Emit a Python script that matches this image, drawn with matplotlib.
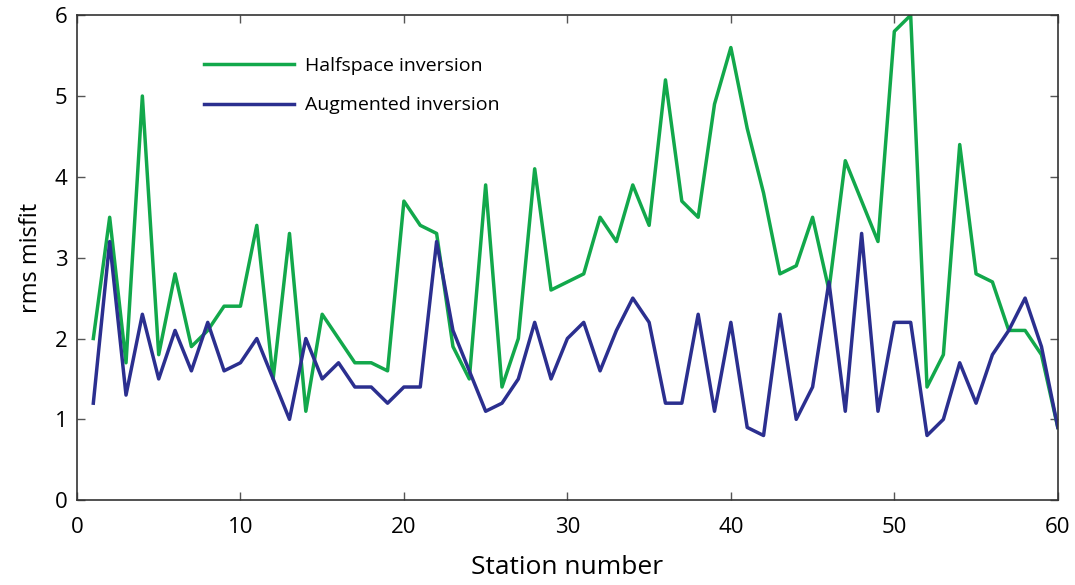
import matplotlib.pyplot as plt

plt.rcParams['font.family'] = ['Open Sans', 'DejaVu Sans']

# rms misfit per station for the two inversion schemes
stations = list(range(1, 61))
halfspace = [2.0, 3.5, 1.7, 5.0, 1.8, 2.8, 1.9, 2.1, 2.4, 2.4,
             3.4, 1.5, 3.3, 1.1, 2.3, 2.0, 1.7, 1.7, 1.6, 3.7,
             3.4, 3.3, 1.9, 1.5, 3.9, 1.4, 2.0, 4.1, 2.6, 2.7,
             2.8, 3.5, 3.2, 3.9, 3.4, 5.2, 3.7, 3.5, 4.9, 5.6,
             4.6, 3.8, 2.8, 2.9, 3.5, 2.6, 4.2, 3.7, 3.2, 5.8,
             6.0, 1.4, 1.8, 4.4, 2.8, 2.7, 2.1, 2.1, 1.8, 0.9]
augmented = [1.2, 3.2, 1.3, 2.3, 1.5, 2.1, 1.6, 2.2, 1.6, 1.7,
             2.0, 1.5, 1.0, 2.0, 1.5, 1.7, 1.4, 1.4, 1.2, 1.4,
             1.4, 3.2, 2.1, 1.6, 1.1, 1.2, 1.5, 2.2, 1.5, 2.0,
             2.2, 1.6, 2.1, 2.5, 2.2, 1.2, 1.2, 2.3, 1.1, 2.2,
             0.9, 0.8, 2.3, 1.0, 1.4, 2.7, 1.1, 3.3, 1.1, 2.2,
             2.2, 0.8, 1.0, 1.7, 1.2, 1.8, 2.1, 2.5, 1.9, 0.9]

fig = plt.figure(figsize=(10.75, 5.85), dpi=100)
ax = fig.add_axes([0.0716, 0.145, 0.9124, 0.829])

ax.plot(stations, halfspace, color='#12a84b', lw=2.5, label='Halfspace inversion')
ax.plot(stations, augmented, color='#2b2f8f', lw=2.5, label='Augmented inversion')

ax.set_xlim(0, 60)
ax.set_ylim(0, 6)
ax.set_xticks([0, 10, 20, 30, 40, 50, 60])
ax.set_yticks([0, 1, 2, 3, 4, 5, 6])
ax.tick_params(direction='in', top=True, right=True, length=6, width=1,
               color='#555555', labelsize=16)
ax.tick_params(axis='x', pad=12)
ax.tick_params(axis='y', pad=7)
for s in ax.spines.values():
    s.set_color('#333333')
    s.set_linewidth(1.2)

ax.set_xlabel('Station number', fontsize=19, labelpad=12)
ax.set_ylabel('rms misfit', fontsize=17, labelpad=8)

ax.legend(loc='upper left', bbox_to_anchor=(0.112, 0.95), frameon=False,
          fontsize=14, handlelength=4.6, handletextpad=0.6, labelspacing=1.1)

fig.savefig('out.png', dpi=100)
